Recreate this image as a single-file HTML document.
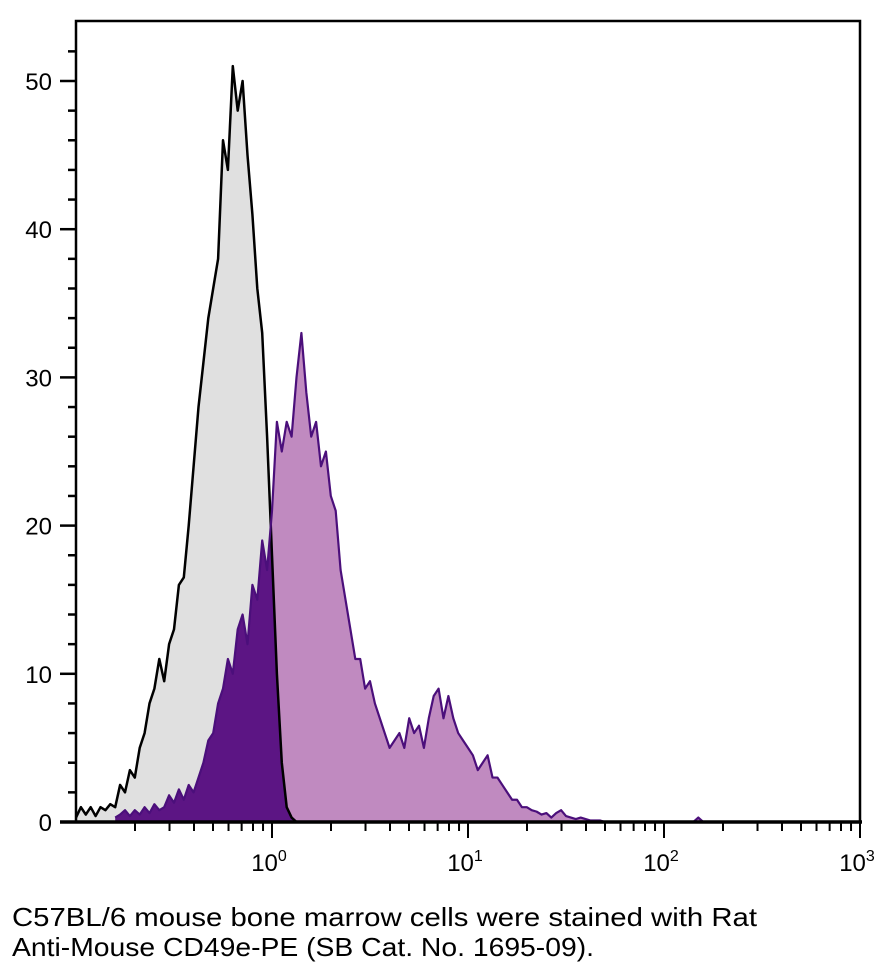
<!DOCTYPE html>
<html><head><meta charset="utf-8"><style>
html,body{margin:0;padding:0;background:#fff;width:892px;height:979px;overflow:hidden}
svg{display:block}
</style></head><body>
<svg id="chart" width="892" height="979" xmlns="http://www.w3.org/2000/svg" font-family="'Liberation Sans', sans-serif">
<defs><clipPath id="grayClip"><path id="grayClipPath" d=""/></clipPath></defs>
<g id="plot"></g>
<g id="axes"></g>
<text x="12" y="926" font-size="26" fill="#000" textLength="745" lengthAdjust="spacingAndGlyphs">C57BL/6 mouse bone marrow cells were stained with Rat</text>
<text x="12" y="956" font-size="26" fill="#000" textLength="582" lengthAdjust="spacingAndGlyphs">Anti-Mouse CD49e-PE (SB Cat. No. 1695-09).</text>
</svg>
<script>
const blackStart = -1.0, step = 0.025;
const blackValues = [0.3,1,0.5,1,0.4,1,0.8,1.2,1.0,2.5,2,3.5,3,5,6,8,9,11,9.5,12,13,16,16.5,20,24,28,31,34,36,38,46,44,51,48,50,45,41,36,33,26,18,10,4,1,0.3,0];
const purpleStart = -0.8;
const purpleValues = [0.3,0.5,0.8,0.4,0.8,0.5,1,0.6,1.2,0.8,1,1.8,1.3,2.2,1.5,2.5,2,3,4,5.5,6,8,9,11,10,13,14,12,16,15,19,17,21,27,25,27,26,30,33,29,26,27,24,25,22,21,17,15,13,11,11,9,9.5,8,7,6,5,5.5,6,5,7,6,6.5,5,7,8.5,9,7,8.5,7,6,5.5,5,4.5,3.5,4,4.5,3,3,2.5,2,1.5,1.5,1,1,0.8,0.7,0.5,0.6,0.3,0.6,0.8,0.4,0.3,0.2,0.3,0.2,0.1,0.1,0.1,0,0,0,0,0,0,0,0,0,0,0,0,0,0,0,0,0,0,0,0.3,0,0,0];
const yTicks = [0,10,20,30,40,50];
const xTickExps = [0,1,2,3];

const L=76,R=860,T=21,B=822;
const xs = lg => L + (lg + 1) * (R - L) / 4;
const ys = v => B - v * (B - 81) / 50;
const NS="http://www.w3.org/2000/svg";
function mk(tag, attrs, parent){const e=document.createElementNS(NS,tag);for(const k in attrs)e.setAttribute(k,attrs[k]);parent.appendChild(e);return e;}
function linePath(start, vals){
  let d='';
  vals.forEach((v,i)=>{const x=xs(start+i*step); d+=(i?'L':'M')+x+','+ys(v);});
  return d;
}
function areaPath(start, vals){
  return `M${xs(start)},${B}` + linePath(start, vals).replace(/^M/,'L') + `L${xs(start+(vals.length-1)*step)},${B}Z`;
}
const plot=document.getElementById('plot');
const pArea = areaPath(purpleStart, purpleValues);
const gArea = areaPath(blackStart, blackValues);
document.getElementById('grayClipPath').setAttribute('d', gArea);
const pf = mk('path',{d:pArea,fill:'#c08ac0'},plot);


const gf = mk('path',{d:gArea,fill:'#e0e0e0'},plot);


const of = mk('path',{d:pArea,fill:'#5c1584','clip-path':'url(#grayClip)'},plot);


const bl = mk('path',{d:linePath(blackStart,blackValues),fill:'none',stroke:'#000','stroke-width':2.5,'stroke-linejoin':'round'},plot);


const pl = mk('path',{d:linePath(purpleStart,purpleValues),fill:'none',stroke:'#4b0f7b','stroke-width':2.2,'stroke-linejoin':'round'},plot);



const ax=document.getElementById('axes');
const frame = mk('path',{d:`M${L},${B}L${L},${T}L${R},${T}L${R},${B}`,fill:'none',stroke:'#000','stroke-width':2.5},ax);


const xa = mk('line',{x1:60,y1:B,x2:R+2,y2:B,stroke:'#000','stroke-width':3.5},ax);


for(let v=0; v<=52; v+=2){
  const major = yTicks.includes(v);
  const t = mk('line',{x1:major?60:68,y1:ys(v),x2:L,y2:ys(v),stroke:'#000','stroke-width':2.5},ax);
  
  
}
yTicks.forEach(v=>{
  const t = mk('text',{x:52,y:ys(v)+9,'text-anchor':'end','font-size':24},ax);
  t.textContent=v;
  
  
});
for(let e=-1;e<3;e++){
  for(let m=1;m<10;m++){
    const lg=e+Math.log10(m);
    if(lg<=-1) continue;
    const t = mk('line',{x1:xs(lg),y1:B,x2:xs(lg),y2:B+(m===1?16:9),stroke:'#000','stroke-width':2},ax);
    
    
  }
}
const t3 = mk('line',{x1:xs(3),y1:B,x2:xs(3),y2:B+16,stroke:'#000','stroke-width':2},ax);


xTickExps.forEach(e=>{
  const t = mk('text',{x:xs(e)-3,y:871,'text-anchor':'middle','font-size':24},ax);
  
  
  const b=document.createElementNS(NS,'tspan');b.textContent='10';t.appendChild(b);
  const s=document.createElementNS(NS,'tspan');s.setAttribute('dy','-10');s.setAttribute('font-size','16');s.textContent=e;t.appendChild(s);
});
</script>
</body></html>
